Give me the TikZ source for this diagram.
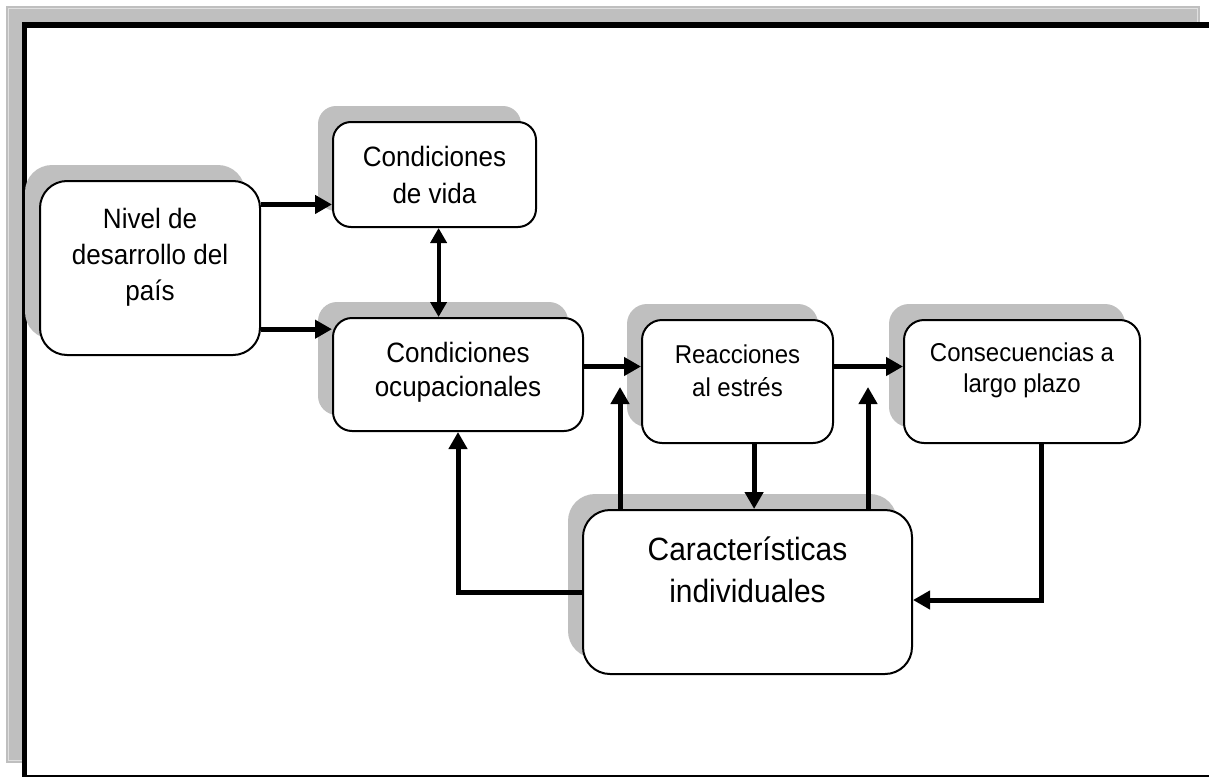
\documentclass[tikz,border=0pt]{standalone}
\usepackage{fontspec}
\setmainfont{Liberation Sans}
\newfontfamily\estrecha[FakeStretch=0.93]{Liberation Sans}
\usetikzlibrary{arrows.meta,shadows,calc}

\tikzset{
  caja/.style={draw, line width=1pt, fill=white, inner sep=0pt,
    general shadow={fill=black!25, shadow xshift=-7.5pt, shadow yshift=8pt}},
  texto/.style={align=center, inner sep=0pt},
  flecha/.style={line width=2.5pt, -{Triangle[length=8.5pt,width=9pt]}},
}

\begin{document}
\begin{tikzpicture}[x=0.5pt,y=-0.5pt]
  \useasboundingbox (0,0) rectangle (1209,776);
  % marco
  \fill[black!25] (6,6) rectangle (1200,763);
  \draw[black!12, line width=0.5pt] (8.5,8.5) rectangle (1197.5,760.5);
  \draw[line width=2.9pt, fill=white] (24.5,25.3) rectangle (1215,777.5);
  % cajas
  \node[caja, rounded corners=13.5pt, minimum width=110pt, minimum height=87pt] (nivel) at (150,268) {};
  \node[caja, rounded corners=9pt, minimum width=101.5pt, minimum height=52.5pt] (vida) at (434.5,174.5) {};
  \node[caja, rounded corners=9.5pt, minimum width=125pt, minimum height=56.5pt] (ocup) at (458,374.5) {};
  \node[caja, rounded corners=10pt, minimum width=95.5pt, minimum height=61.5pt] (reac) at (737.5,381.5) {};
  \node[caja, rounded corners=10pt, minimum width=118pt, minimum height=61.5pt] (cons) at (1022,381.5) {};
  \node[caja, rounded corners=13.5pt, minimum width=164.5pt, minimum height=82pt] (car) at (747.5,592) {};
  % textos
  \node[texto, font=\estrecha\fontsize{14}{18}\selectfont] (tnivel) at (150,257) {Nivel de\\desarrollo del\\país};
  \node[texto, font=\estrecha\fontsize{14}{18.5}\selectfont] (tvida) at (434.5,174.5) {Condiciones\\de vida};
  \node[texto, font=\estrecha\fontsize{14}{17}\selectfont] (tocup) at (458,372.5) {Condiciones\\ocupacionales};
  \node[texto, font=\estrecha\fontsize{12.9}{16.5}\selectfont] (treac) at (737.5,370.5) {Reacciones\\al estrés};
  \node[texto, font=\estrecha\fontsize{12.9}{15.5}\selectfont] (tcons) at (1022,370.5) {Consecuencias a\\largo plazo};
  \node[texto, font=\estrecha\fontsize{16.1}{21}\selectfont] (tcar) at (747.5,570) {Características\\individuales};
  % flechas
  \coordinate (v1) at ($(vida.north west)!.78!(vida.south west)$);
  \coordinate (o1) at ($(ocup.north west)!.106!(ocup.south west)$);
  \coordinate (r1) at ($(reac.north west)!.38!(reac.south west)$);
  \coordinate (c1) at ($(cons.north west)!.38!(cons.south west)$);
  \coordinate (v2) at ($(vida.south west)!.52!(vida.south east)$);
  \coordinate (r2) at ($(reac.south west)!.586!(reac.south east)$);
  \coordinate (c2) at ($(cons.south west)!.58!(cons.south east)$);
  \coordinate (s1) at (620,387);
  \coordinate (s2) at (868,387);
  \draw[flecha] (nivel.east |- v1) -- (v1);
  \draw[flecha] (nivel.east |- o1) -- (o1);
  \draw[line width=2pt, {Triangle[length=7.5pt,width=8pt]}-{Triangle[length=7.5pt,width=8pt]}] (v2) -- (v2 |- ocup.north);
  \draw[flecha] (ocup.east |- r1) -- (r1);
  \draw[flecha] (reac.east |- c1) -- (c1);
  \draw[flecha] (r2) -- (r2 |- car.north);
  \draw[flecha] (s1 |- car.north) -- (s1);
  \draw[flecha] (s2 |- car.north) -- (s2);
  \draw[flecha] (car.west) -| (ocup.south);
  \draw[flecha] (c2) |- ([yshift=-4pt]car.east);
\end{tikzpicture}
\end{document}
